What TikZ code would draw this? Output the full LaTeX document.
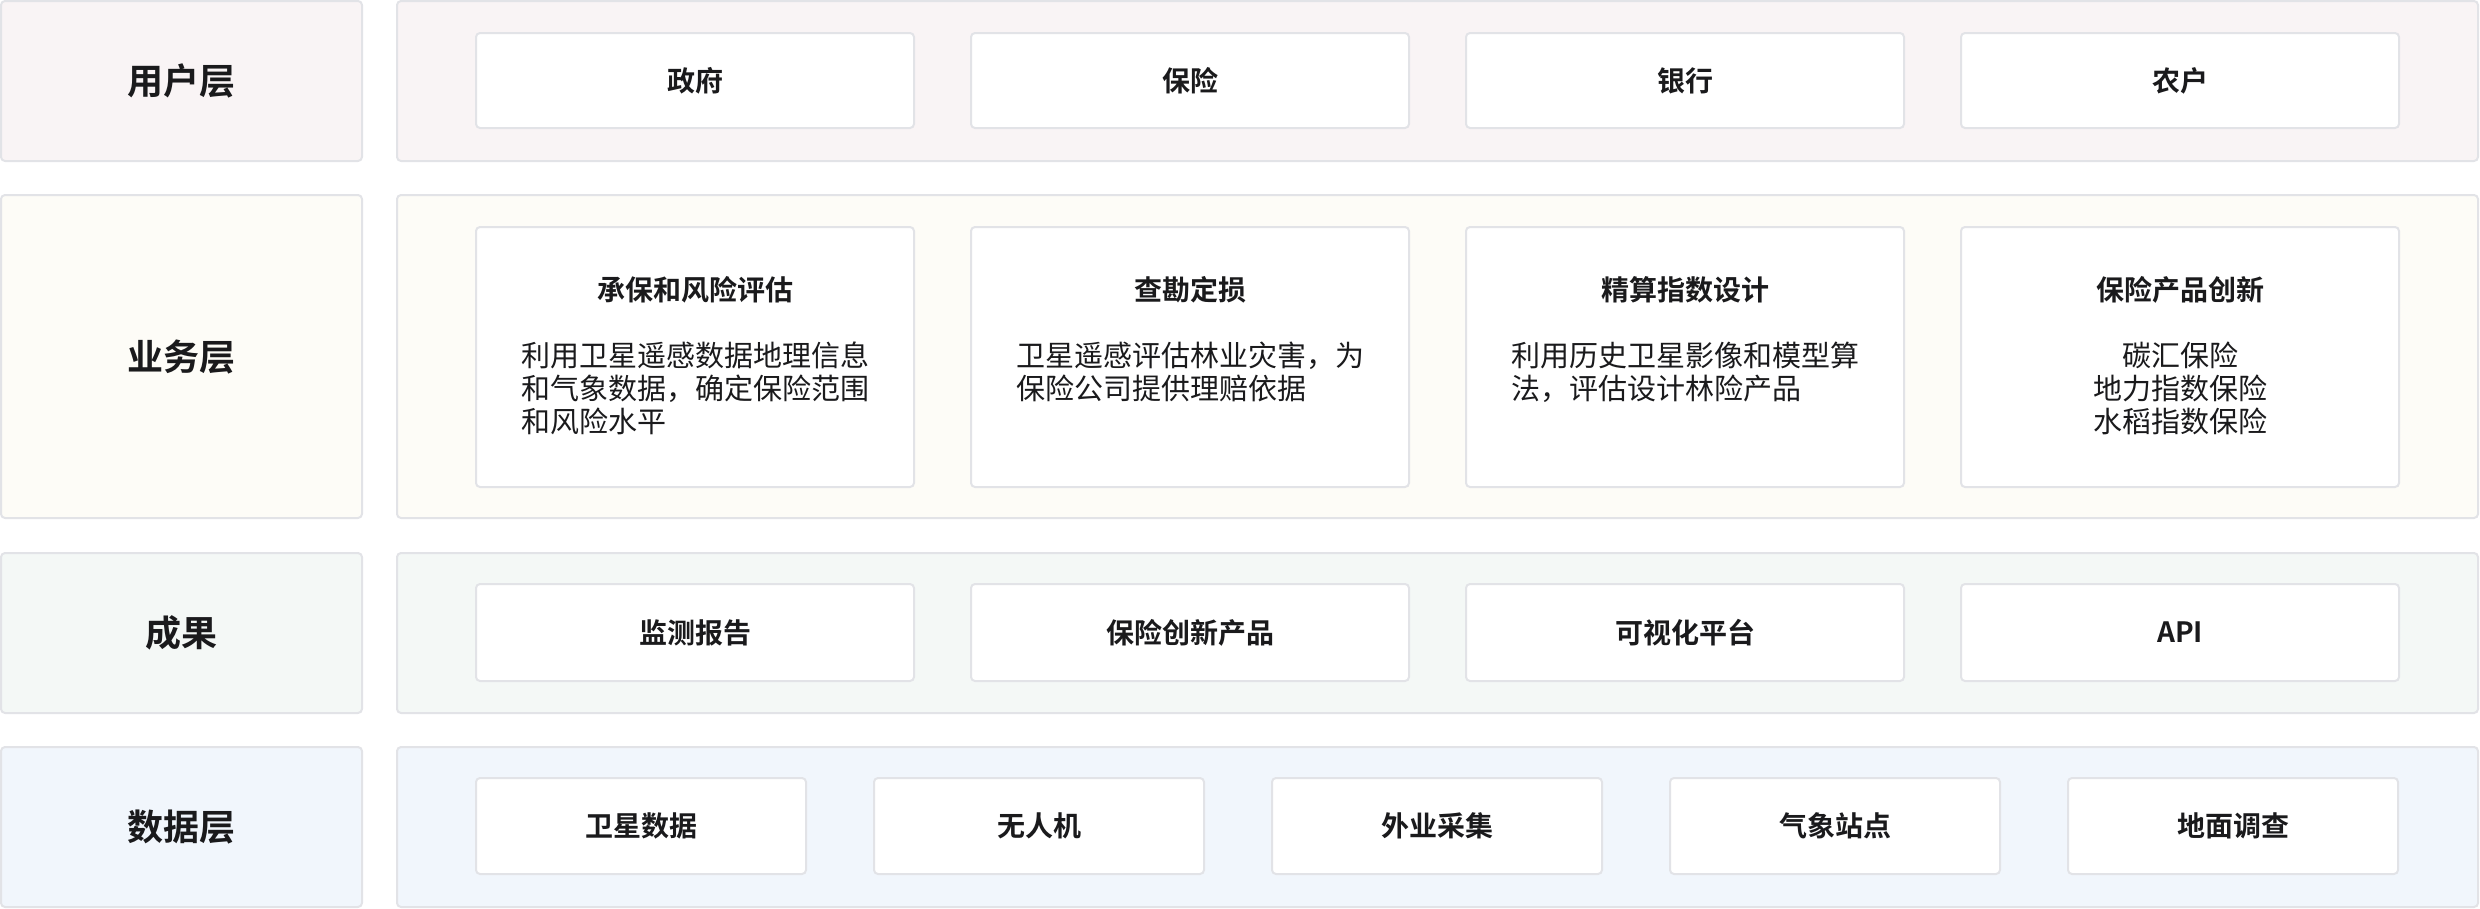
\documentclass[tikz,border=0pt]{standalone}
\usepackage{fontspec}
\setmainfont{Noto Sans CJK SC}[BoldFont={Noto Sans CJK SC Bold}]
\usepackage{tikz}

\definecolor{edge}{RGB}{226,227,231}
\definecolor{ink}{RGB}{26,26,28}
\definecolor{userbg}{RGB}{249,244,245}
\definecolor{bizbg}{RGB}{253,252,247}
\definecolor{resbg}{RGB}{244,248,246}
\definecolor{databg}{RGB}{241,246,252}

\newcommand{\layerfont}{\fontsize{36pt}{40pt}\selectfont\bfseries}
\newcommand{\titlefont}{\fontsize{28pt}{33pt}\selectfont\bfseries}
\newcommand{\bodyfont}{\fontsize{29pt}{33pt}\selectfont}

\begin{document}
\begin{tikzpicture}[x=1pt,y=-1pt,
    layer/.style={draw=edge, line width=2pt, rounded corners=4pt, text=ink, inner sep=0pt, font=\layerfont},
    card/.style={draw=edge, fill=white, line width=2pt, rounded corners=4pt, text=ink, inner sep=0pt, font=\titlefont},
    body/.style={anchor=north, text=ink, inner sep=0pt, text width=348pt, font=\bodyfont}]
    \useasboundingbox (0,0) rectangle (2480,908);

    % Layer labels on the left
    \node[layer, fill=userbg, minimum width=361pt, minimum height=160pt] (userlab) at (181.5,81) {用户层};
    \node[layer, fill=bizbg, minimum width=361pt, minimum height=323pt] (bizlab) at (181.5,356.5) {业务层};
    \node[layer, fill=resbg, minimum width=361pt, minimum height=160pt] (reslab) at (181.5,633) {成果};
    \node[layer, fill=databg, minimum width=361pt, minimum height=160pt] (datalab) at (181.5,827) {数据层};

    % Layer panels
    \node[layer, fill=userbg, minimum width=2081pt, minimum height=160pt] (userpanel) at (1437.5,81) {};
    \node[layer, fill=bizbg, minimum width=2081pt, minimum height=323pt] (bizpanel) at (1437.5,356.5) {};
    \node[layer, fill=resbg, minimum width=2081pt, minimum height=160pt] (respanel) at (1437.5,633) {};
    \node[layer, fill=databg, minimum width=2081pt, minimum height=160pt] (datapanel) at (1437.5,827) {};

    % User layer
    \foreach \name/\txt [count=\i] in {gov/政府, ins/保险, bank/银行, farmer/农户} {
        \node[card, minimum width=438pt, minimum height=95pt] (\name) at ({695+495*(\i-1)},80.5) {\txt};
    }

    % Business layer
    \foreach \name/\title/\txt/\al [count=\i] in {
        under/承保和风险评估/{利用卫星遥感数据地理信息\\和气象数据，确定保险范围\\和风险水平}/left,
        claim/查勘定损/{卫星遥感评估林业灾害，为\\保险公司提供理赔依据}/left,
        actu/精算指数设计/{利用历史卫星影像和模型算\\法，评估设计林险产品}/left,
        prod/保险产品创新/{碳汇保险\\地力指数保险\\水稻指数保险}/center} {
        \node[card, minimum width=438pt, minimum height=260pt] (\name) at ({695+495*(\i-1)},357) {};
        \node[text=ink, inner sep=0pt, font=\titlefont] (\name-title) at ({695+495*(\i-1)},290) {\title};
        \node[body, align=\al] (\name-body) at ({695+495*(\i-1)},342) {\txt};
    }

    % Results
    \foreach \name/\txt [count=\i] in {report/监测报告, newprod/保险创新产品, platform/可视化平台, api/API} {
        \node[card, minimum width=438pt, minimum height=97pt] (\name) at ({695+495*(\i-1)},632.5) {\txt};
    }

    % Data layer
    \foreach \name/\txt [count=\i] in {sat/卫星数据, uav/无人机, field/外业采集, weather/气象站点, survey/地面调查} {
        \node[card, minimum width=330pt, minimum height=96pt] (\name) at ({641+398*(\i-1)},826) {\txt};
    }
\end{tikzpicture}
\end{document}
